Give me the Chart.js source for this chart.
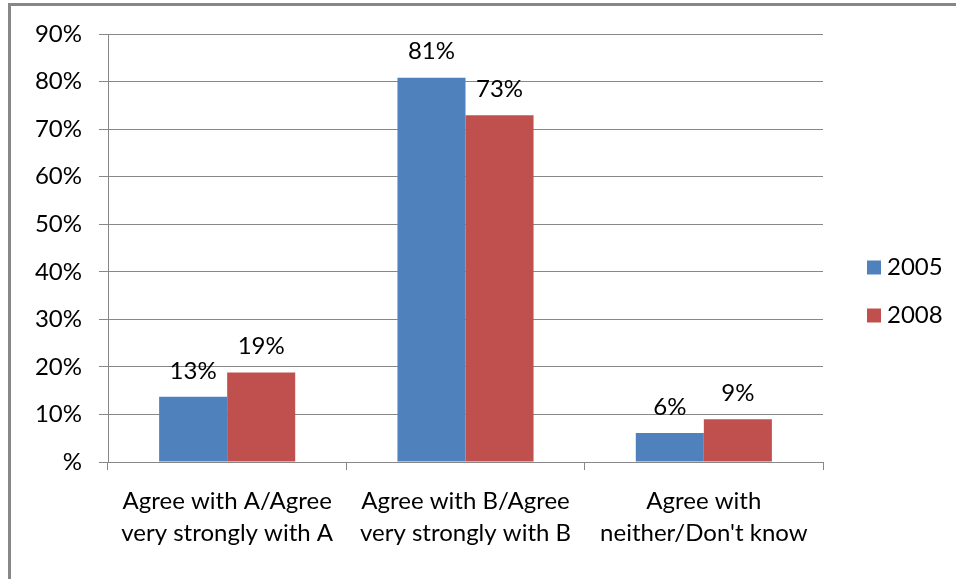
<!DOCTYPE html>
<html>
<head>
<meta charset="utf-8">
<script src="https://cdn.jsdelivr.net/npm/chart.js@4.4.1/dist/chart.umd.min.js"></script>
<style>
  html, body { margin: 0; padding: 0; background: #fff; }
  #wrap { position: relative; width: 956px; height: 579px; overflow: hidden; background: #fff; }
  #frame { position: absolute; left: 8px; top: 3px; width: 1000px; height: 700px;
           border-top: 3px solid #878787; border-left: 3px solid #878787; }
  #chart { position: absolute; left: 0; top: 0; }
</style>
</head>
<body>
<div id="wrap">
  <div id="frame"></div>
  <canvas id="chart" width="956" height="579"></canvas>
</div>
<script>
// ================== data ==================
const categories = [
  ["Agree with A/Agree", "very strongly with A"],
  ["Agree with B/Agree", "very strongly with B"],
  ["Agree with", "neither/Don't know"],
];
const seriesNames = ["2005", "2008"];
const values2005 = [13.7, 80.8, 6.1];
const values2008 = [18.8, 72.9, 9.0];
const labels2005 = ["13%", "81%", "6%"];
const labels2008 = ["19%", "73%", "9%"];
const yTickLabels = ["%", "10%", "20%", "30%", "40%", "50%", "60%", "70%", "80%", "90%"];

const FONT = "Lato";
const GRID = "#878787";

// ================== plugins ==================
// value labels above each bar
const barLabels = {
  id: "barLabels",
  afterDatasetsDraw(chart) {
    const ctx = chart.ctx;
    ctx.save();
    ctx.font = `24px ${FONT}`;
    ctx.fillStyle = "#000";
    ctx.textAlign = "center";
    ctx.textBaseline = "middle";
    chart.data.datasets.forEach((ds, i) => {
      chart.getDatasetMeta(i).data.forEach((bar, j) => {
        ctx.fillText(ds.valueLabels[j], bar.x, bar.y - 26);
      });
    });
    ctx.restore();
  },
};

// legend on the right, Excel style
const sideLegend = {
  id: "sideLegend",
  afterDraw(chart) {
    const ctx = chart.ctx;
    const x = chart.chartArea.right + 44;
    const mid = chart.height / 2 + 2;
    const n = chart.data.datasets.length;
    ctx.save();
    ctx.font = `24px ${FONT}`;
    ctx.textBaseline = "middle";
    chart.data.datasets.forEach((ds, i) => {
      const y = mid + (i - (n - 1) / 2) * 48;
      ctx.fillStyle = ds.backgroundColor;
      ctx.fillRect(x, y - 7, 14, 14);
      ctx.fillStyle = "#000";
      ctx.fillText(ds.label, x + 20, y);
    });
    ctx.restore();
  },
};

// ================== chart ==================
new Chart(document.getElementById("chart"), {
  type: "bar",
  data: {
    labels: categories,
    datasets: [
      { label: seriesNames[0], data: values2005, valueLabels: labels2005, backgroundColor: "#4F81BD" },
      { label: seriesNames[1], data: values2008, valueLabels: labels2008, backgroundColor: "#C0504D" },
    ],
  },
  options: {
    responsive: false,
    animation: false,
    layout: { padding: { top: 34, right: 133, bottom: 15, left: 0 } },
    datasets: { bar: { barPercentage: 1, categoryPercentage: 0.571 } },
    plugins: { legend: { display: false }, tooltip: { enabled: false } },
    scales: {
      x: {
        grid: { drawOnChartArea: false, drawTicks: true, tickLength: 8, color: GRID },
        border: { color: GRID },
        ticks: {
          color: "#000",
          padding: 15,
          maxRotation: 0,
          autoSkip: false,
          font: { family: FONT, size: 24, lineHeight: 32 / 24 },
        },
      },
      y: {
        min: 0,
        max: 90,
        afterFit(scale) { scale.width = 108; },
        grid: { color: GRID, tickLength: 9 },
        border: { color: GRID },
        ticks: {
          stepSize: 10,
          color: "#000",
          padding: 17,
          font: { family: FONT, size: 24 },
          callback: (v) => yTickLabels[Math.round(v / 10)],
        },
      },
    },
  },
  plugins: [barLabels, sideLegend],
});
</script>
</body>
</html>
